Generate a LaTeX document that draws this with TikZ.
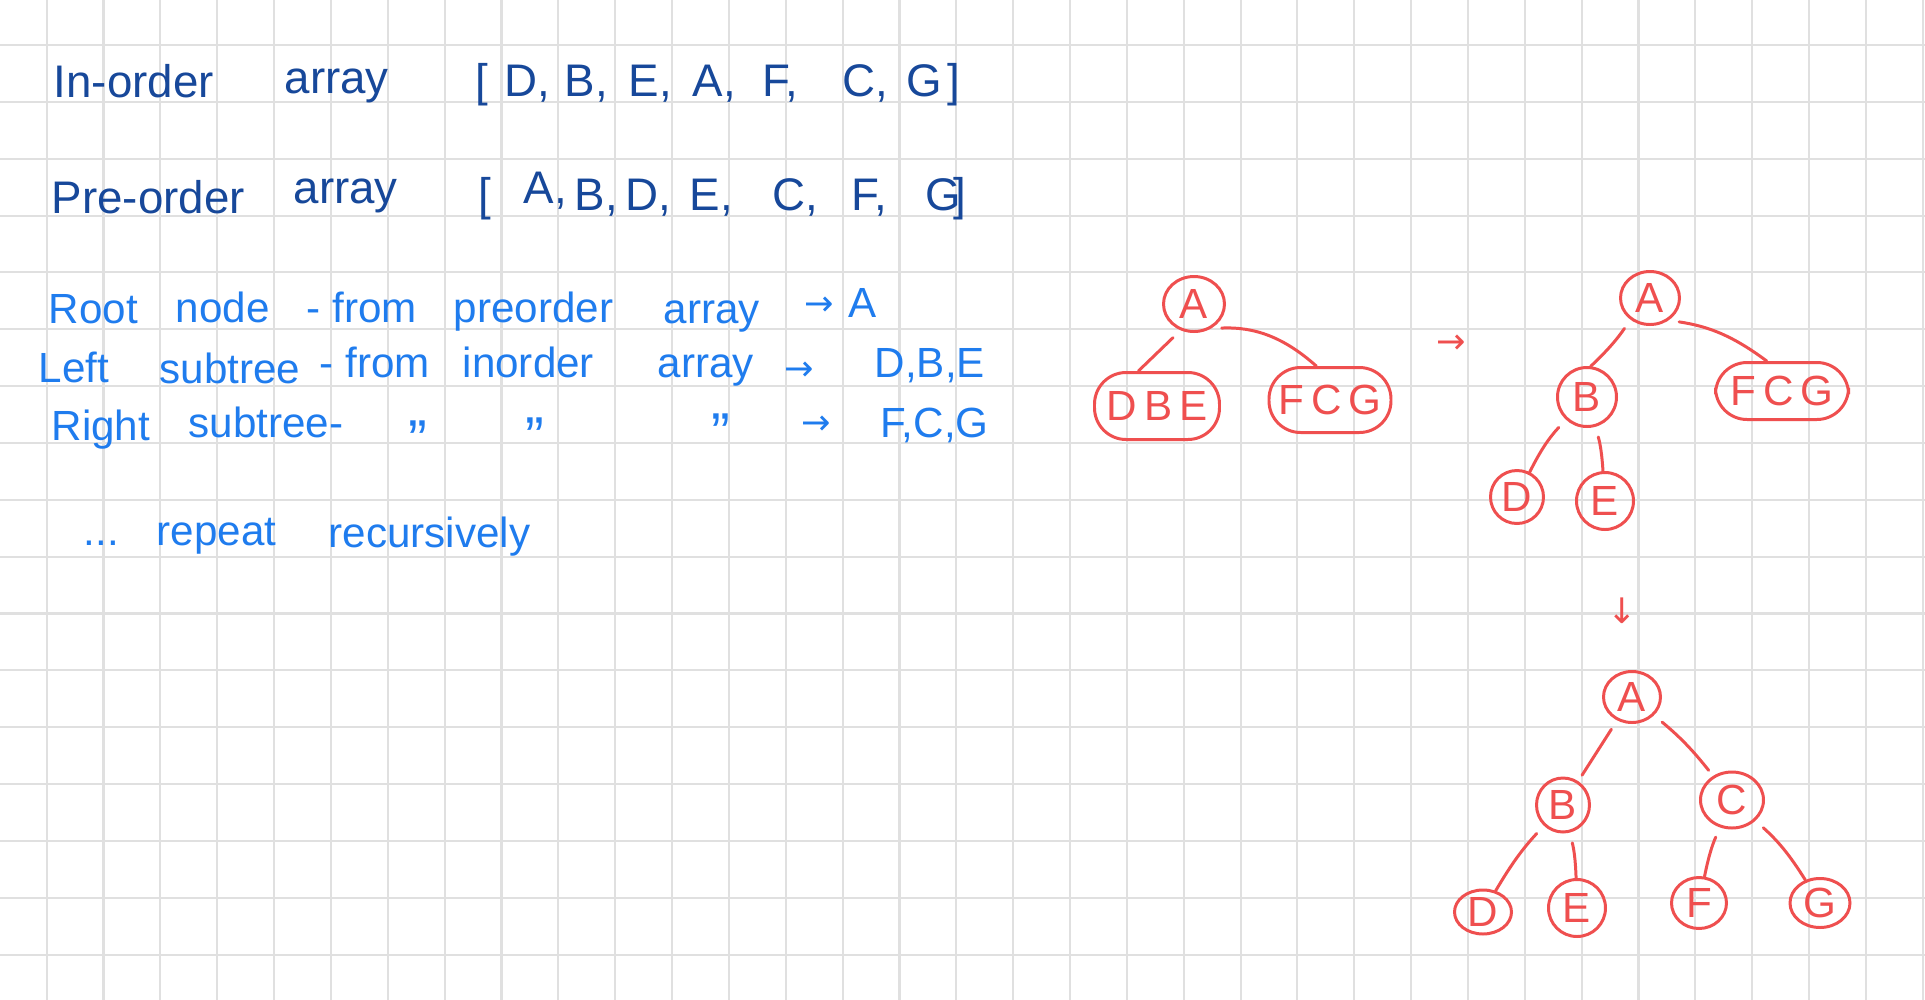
\documentclass[tikz,border=0pt]{standalone}
\usepackage{fontspec}
\setmainfont{Liberation Sans}
\newfontfamily\arrowfont{DejaVu Sans}
\usepackage{xcolor}
\usetikzlibrary{shapes.geometric}

\definecolor{inkdark}{HTML}{17489A}
\definecolor{inkblue}{HTML}{1F7CEE}
\definecolor{inkred}{HTML}{EF4F4F}
\definecolor{gridgray}{HTML}{E0E0E0}

\begin{document}
\begin{tikzpicture}[x=0.1mm,y=-0.1mm,
  gridline/.style={gridgray,line width=0.6pt},
  dark/.style={anchor=base west,inner sep=0pt,text=inkdark,font=\fontsize{13}{15}\selectfont},
  note/.style={anchor=base west,inner sep=0pt,text=inkblue,font=\fontsize{12}{14}\selectfont},
  noteto/.style={inner sep=0pt,text=inkblue,font=\arrowfont\fontsize{10}{12}\selectfont},
  ditto/.style={inner sep=0pt,text=inkblue,font=\fontsize{16}{18}\selectfont},
  tnode/.style={draw=inkred,ellipse,line width=0.85pt,inner sep=0pt,text=inkred,
                font=\fontsize{12}{14}\selectfont},
  blob/.style={draw=inkred,rounded corners=9pt,line width=0.85pt,inner sep=0pt,text=inkred,
               font=\fontsize{12}{14}\selectfont},
  link/.style={draw=inkred,line width=0.85pt,line cap=round,shorten <=3pt},
  redarr/.style={inner sep=0pt,text=inkred,font=\arrowfont\fontsize{10}{12}\selectfont}]

  \useasboundingbox (0,0) rectangle (1925,1000);
  \fill[white] (0,0) rectangle (1925,1000);
  \foreach \i in {0,...,33} \draw[gridline] ({46.7+56.85*\i},0) -- ++(0,1000);
  \foreach \j in {0,...,16} \draw[gridline] (0,{45+56.85*\j}) -- ++(1925,0);

  % traversal arrays
  \node[dark] (inord)  at (53,97)   {In-order};
  \node[dark] (inarr)  at (284,93)  {array};
  \foreach \x/\t [count=\k] in {475/[, 504/{D,}, 564/{B,}, 628/{E,}, 692/{A,}, 762/{F,}, 842/{C,}, 906/G, 947/]}
    \node[dark] (inv\k) at (\x,96) {\t};
  \node[dark] (preord) at (51,213)  {Pre-order};
  \node[dark] (prearr) at (293,203) {array};
  \foreach \x/\y/\t [count=\k] in {478/210/[, 523/203/{A,}, 574/210/{B,}, 625/210/{D,}, 689/210/{E,}, 772/210/{C,}, 851/210/{F,}, 925/210/G, 953/210/]}
    \node[dark] (prev\k) at (\x,\y) {\t};

  % notes
  \node[note] (root)   at (48,323)  {Root};
  \node[note] (rnode)  at (175,322) {node};
  \node[note] (rfrom)  at (306,322) {- from};
  \node[note] (rpre)   at (453,322) {preorder};
  \node[note] (rarr)   at (663,323) {array};
  \node[noteto] (rto)  at (819,306) {→};
  \node[note] (rval)   at (848,317) {A};

  \node[note] (left)   at (38,382)  {Left};
  \node[note] (lsub)   at (159,383) {subtree};
  \node[note] (lfrom)  at (319,377) {- from};
  \node[note] (lin)    at (462,377) {inorder};
  \node[note] (larr)   at (657,377) {array};
  \node[noteto] (lto)  at (799,371) {→};
  \node[note] (lval)   at (874,377) {D,B,E};

  \node[note] (right)  at (51,440)  {Right};
  \node[note] (rsub)   at (188,437) {subtree-};
  \node[ditto] (dit1)  at (418,440) {”};
  \node[ditto] (dit2)  at (535,437) {”};
  \node[ditto] (dit3)  at (721,433) {”};
  \node[noteto] (gto)  at (816,425) {→};
  \node[note] (gval)   at (880,437) {F,C,G};

  \node[note] (dots)   at (83,545)  {...};
  \node[note] (rep)    at (156,545) {repeat};
  \node[note] (recur)  at (328,547) {recursively};

  % step 1
  \node[tnode,minimum width=6.1mm,minimum height=5.5mm] (a1) at (1194,304) {A};
  \node[blob,minimum width=12.5mm,minimum height=6.7mm] (dbe1) at (1157,406) {D\,B\,E};
  \node[blob,minimum width=12.2mm,minimum height=6.5mm] (fcg1) at (1330,400) {F\,C\,G};
  \draw[link] (a1.243) -- (dbe1.118);
  \draw[link] (a1.-55) to[bend left=22] (fcg1.112);
  \node[redarr] (step1) at (1451,344) {→};

  % step 2
  \node[tnode,minimum width=5.9mm,minimum height=5.3mm] (a2) at (1650,298) {A};
  \node[tnode,minimum width=5.9mm,minimum height=5.9mm] (b2) at (1587,397) {B};
  \node[blob,minimum width=13.3mm,minimum height=5.7mm] (fcg2) at (1782,391) {F\,C\,G};
  \node[tnode,minimum width=5.3mm,minimum height=5.3mm] (d2) at (1517,497) {D};
  \node[tnode,minimum width=5.7mm,minimum height=5.7mm] (e2) at (1605,501) {E};
  \draw[link] (a2.-132) to[bend left=6] (b2.83);
  \draw[link] (a2.-50) to[bend left=14] (fcg2.117);
  \draw[link] (b2) to[bend right=8] (d2);
  \draw[link] (b2) to[bend left=6] (e2);
  \node[redarr] (step2) at (1622,611) {↓};

  % step 3
  \node[tnode,minimum width=5.7mm,minimum height=5.1mm] (a3) at (1632,697) {A};
  \node[tnode,minimum width=5.3mm,minimum height=5.4mm] (b3) at (1563,805) {B};
  \node[tnode,minimum width=6.3mm,minimum height=5.6mm] (c3) at (1732,800) {C};
  \node[tnode,minimum width=5.7mm,minimum height=4.4mm] (d3) at (1483,912) {D};
  \node[tnode,minimum width=5.7mm,minimum height=5.7mm] (e3) at (1577,908) {E};
  \node[tnode,minimum width=5.5mm,minimum height=5.1mm] (f3) at (1699,903) {F};
  \node[tnode,minimum width=6.0mm,minimum height=4.9mm] (g3) at (1820,903) {G};
  \draw[link,shorten >=2pt] (a3) -- (b3);
  \draw[link,shorten >=2pt] (a3) to[bend left=6] (c3);
  \draw[link] (b3) to[bend right=6] (d3);
  \draw[link] (b3) to[bend left=6] (e3);
  \draw[link] (c3) to[bend right=6] (f3);
  \draw[link] (c3) to[bend left=8] (g3);

\end{tikzpicture}
\end{document}
